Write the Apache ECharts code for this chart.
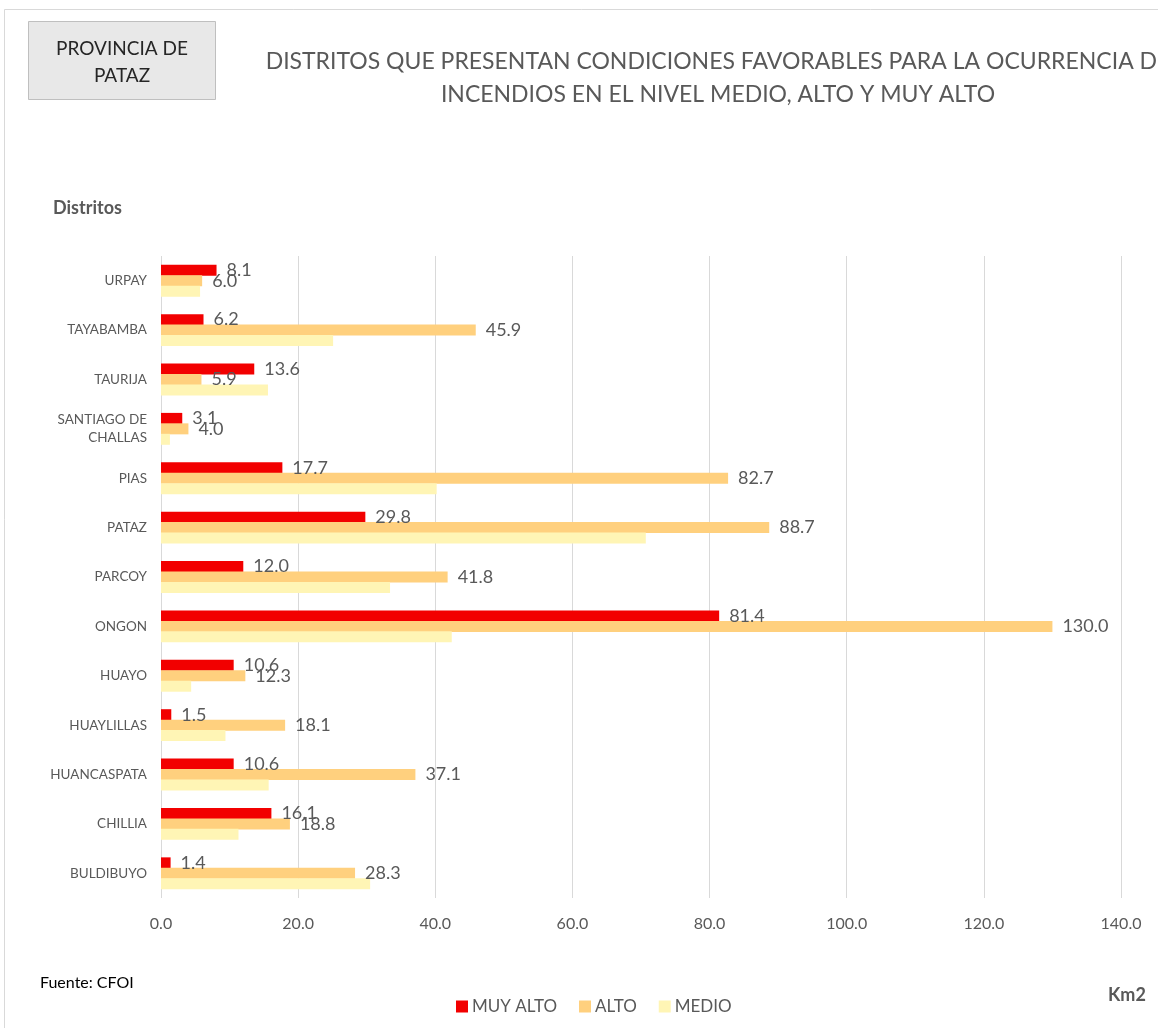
<!DOCTYPE html>
<html>
<head>
<meta charset="utf-8">
<script src="https://cdn.jsdelivr.net/npm/echarts@6/dist/echarts.min.js"></script>
<style>
html,body{margin:0;padding:0;background:#fff;}
#chart{width:1158px;height:1028px;}
</style>
</head>
<body>
<div id="chart"></div>
<script>
const categories = ['BULDIBUYO','CHILLIA','HUANCASPATA','HUAYLILLAS','HUAYO','ONGON','PARCOY','PATAZ','PIAS','SANTIAGO DE\nCHALLAS','TAURIJA','TAYABAMBA','URPAY'];
const muyAlto = [1.4, 16.1, 10.6, 1.5, 10.6, 81.4, 12.0, 29.8, 17.7, 3.1, 13.6, 6.2, 8.1];
const alto    = [28.3, 18.8, 37.1, 18.1, 12.3, 130.0, 41.8, 88.7, 82.7, 4.0, 5.9, 45.9, 6.0];
const medio   = [30.5, 11.3, 15.7, 9.4, 4.4, 42.4, 33.4, 70.7, 40.2, 1.3, 15.6, 25.1, 5.7];
const xTicks = [0, 20, 40, 60, 80, 100, 120, 140];

const chart = echarts.init(document.getElementById('chart'));
const FONT = 'Lato';
const GRAY = '#595959';

const labelCfg = {
  show: true, position: 'right', distance: 10,
  color: GRAY, fontSize: 18, fontFamily: FONT,
  formatter: p => p.value.toFixed(1)
};

chart.setOption({
  backgroundColor: '#fff',
  animation: false,
  textStyle: {fontFamily: FONT},
  title: {
    text: 'DISTRITOS QUE PRESENTAN CONDICIONES FAVORABLES PARA LA OCURRENCIA DE\nINCENDIOS EN EL NIVEL MEDIO, ALTO Y MUY ALTO',
    left: 713, top: 40, textAlign: 'center',
    textStyle: {fontSize: 23, fontWeight: 'normal', color: GRAY, lineHeight: 33, fontFamily: FONT}
  },
  legend: {
    data: ['MUY ALTO', 'ALTO', 'MEDIO'],
    left: 451, top: 993,
    icon: 'rect', itemWidth: 12, itemHeight: 12, itemGap: 22,
    textStyle: {color: GRAY, fontSize: 17, fontFamily: FONT, padding: [0, 0, 0, -1]}
  },
  grid: {left: 161, right: 37, top: 256, bottom: 130, containLabel: false},
  xAxis: {
    type: 'value', min: xTicks[0], max: xTicks[xTicks.length - 1], interval: 20,
    axisLine: {show: false}, axisTick: {show: false},
    splitLine: {lineStyle: {color: '#d9d9d9', width: 1}},
    axisLabel: {color: GRAY, fontSize: 16, fontFamily: FONT, margin: 18, formatter: v => v.toFixed(1)}
  },
  yAxis: {
    type: 'category', data: categories,
    axisLine: {show: false}, axisTick: {show: false},
    axisLabel: {color: GRAY, fontSize: 13.5, fontFamily: FONT, margin: 14, lineHeight: 18}
  },
  series: [
    {name: 'MUY ALTO', type: 'bar', data: muyAlto, barWidth: 11, barGap: '-5%', itemStyle: {color: '#F20000'}, label: labelCfg},
    {name: 'ALTO', type: 'bar', data: alto, barWidth: 11, barGap: '-5%', itemStyle: {color: '#FFD07E'}, label: labelCfg},
    {name: 'MEDIO', type: 'bar', data: medio, barWidth: 11, barGap: '-5%', itemStyle: {color: '#FFF5B5'}}
  ],
  graphic: [
    {type: 'rect', shape: {x: 4.5, y: 9.5, width: 1200, height: 1100}, style: {fill: 'none', stroke: '#d9d9d9', lineWidth: 1}, silent: true},
    {type: 'rect', shape: {x: 28.5, y: 21.5, width: 187, height: 78}, style: {fill: '#e8e8e8', stroke: '#bfbfbf', lineWidth: 1}},
    {type: 'text', x: 122, y: 35, style: {text: 'PROVINCIA DE\nPATAZ', align: 'center', textAlign: 'center', fill: '#262626', fontSize: 19, fontFamily: FONT, lineHeight: 27}},
    {type: 'text', x: 53, y: 199, style: {text: 'Distritos', fill: GRAY, fontSize: 18, fontWeight: 'bold', fontFamily: FONT}},
    {type: 'text', x: 1108, y: 986, style: {text: 'Km2', fill: GRAY, fontSize: 18, fontWeight: 'bold', fontFamily: FONT}},
    {type: 'text', x: 40, y: 975, style: {text: 'Fuente: CFOI', fill: '#000', fontSize: 16, fontFamily: FONT}}
  ]
});
</script>
</body>
</html>
